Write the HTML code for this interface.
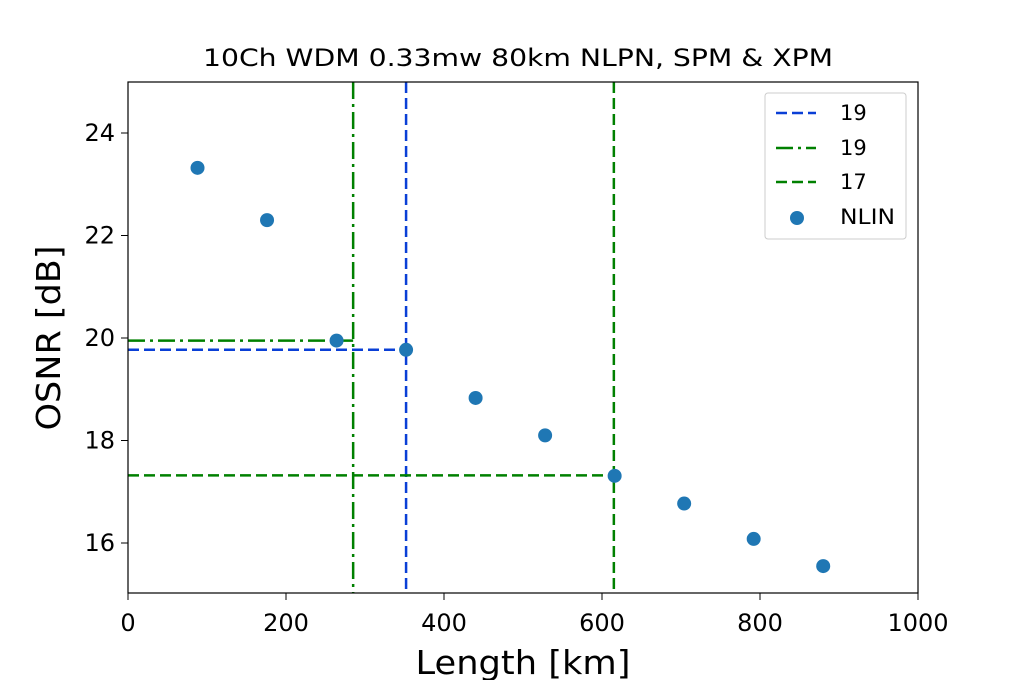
<!DOCTYPE html>
<html><head><meta charset="utf-8"><style>
body{margin:0;background:#fff;}
svg text{font-family:"DejaVu Sans","Liberation Sans",sans-serif;fill:#000;}
</style></head><body>
<svg id="chart" width="1020" height="680" viewBox="0 0 1020 680" xmlns="http://www.w3.org/2000/svg">
<rect width="1020" height="680" fill="#fff"/>
<text x="518" y="66" style="font-size:24px" text-anchor="middle" textLength="630" lengthAdjust="spacingAndGlyphs">10Ch WDM 0.33mw 80km NLPN, SPM &amp; XPM</text>
<g id="plot"></g>
<rect x="128" y="82" width="790" height="511" fill="none" stroke="#000" stroke-width="1.2"/>
<text x="523" y="674" style="font-size:33px" text-anchor="middle" textLength="215" lengthAdjust="spacingAndGlyphs">Length [km]</text>
<text transform="translate(60,338) rotate(-90)" style="font-size:33px" text-anchor="middle" textLength="185" lengthAdjust="spacingAndGlyphs">OSNR [dB]</text>
<g>
<rect x="765" y="93" width="141" height="146" rx="3" fill="#fff" stroke="#ccc"/>
<line x1="776" y1="113" x2="816" y2="113" stroke="#0a3fd6" stroke-width="2.5" stroke-dasharray="11,5"/>
<text x="840" y="120" style="font-size:21px">19</text>
<line x1="776" y1="148" x2="816" y2="148" stroke="#008000" stroke-width="2.5" stroke-dasharray="17,5,3,5"/>
<text x="840" y="155" style="font-size:21px">19</text>
<line x1="776" y1="182" x2="816" y2="182" stroke="#008000" stroke-width="2.5" stroke-dasharray="11,5"/>
<text x="840" y="189" style="font-size:21px">17</text>
<circle cx="797" cy="218" r="7" fill="#1f77b4"/>
<text x="840" y="224" style="font-size:21px" textLength="55" lengthAdjust="spacingAndGlyphs">NLIN</text>
</g>
</svg>
<script>
const lengths = [88,176,264,352,440,528,616,704,792,880];
const osnr = [23.32,22.3,19.95,19.77,18.83,18.1,17.31,16.77,16.08,15.55];
const xTicks = [0,200,400,600,800,1000];
const yTicks = [16,18,20,22,24];
const refX = [352,285,615];
const refY = [19.77,19.95,17.32];
const NS='http://www.w3.org/2000/svg';
const x = v => 128 + v*0.79;
const y = v => 594.25 - (v-15)*51.25;
const g = document.getElementById('plot');
function mk(t,a){const e=document.createElementNS(NS,t);for(const k in a)e.setAttribute(k,a[k]);g.appendChild(e);return e;}
xTicks.forEach(t=>{
 let l=mk('line',{x1:x(t),x2:x(t),y1:593,y2:600,stroke:'#000'});
 
 
 let s=mk('text',{x:x(t),y:631,style:'font-size:24px','text-anchor':'middle'});s.textContent=t;
 
 
});
yTicks.forEach(t=>{
 let l=mk('line',{x1:121,x2:128,y1:y(t),y2:y(t),stroke:'#000'});
 
 
 let s=mk('text',{x:115,y:y(t)+8,style:'font-size:24px','text-anchor':'end'});s.textContent=t;
 
 
});
const styles=[{c:'#0a3fd6',d:'11,5'},{c:'#008000',d:'17,5,3,5'},{c:'#008000',d:'11,5'}];
refX.forEach((rx,i)=>{
 let v=mk('line',{x1:x(rx),x2:x(rx),y1:82,y2:593,stroke:styles[i].c,'stroke-width':2.5,'stroke-dasharray':styles[i].d});
 
 
 let h=mk('line',{x1:128,x2:x(rx),y1:y(refY[i]),y2:y(refY[i]),stroke:styles[i].c,'stroke-width':2.5,'stroke-dasharray':styles[i].d});
 
 
});
lengths.forEach((L,i)=>{
 let c=mk('circle',{cx:x(L),cy:y(osnr[i]),r:7,fill:'#1f77b4'});
 
 
});
</script>
</body></html>
